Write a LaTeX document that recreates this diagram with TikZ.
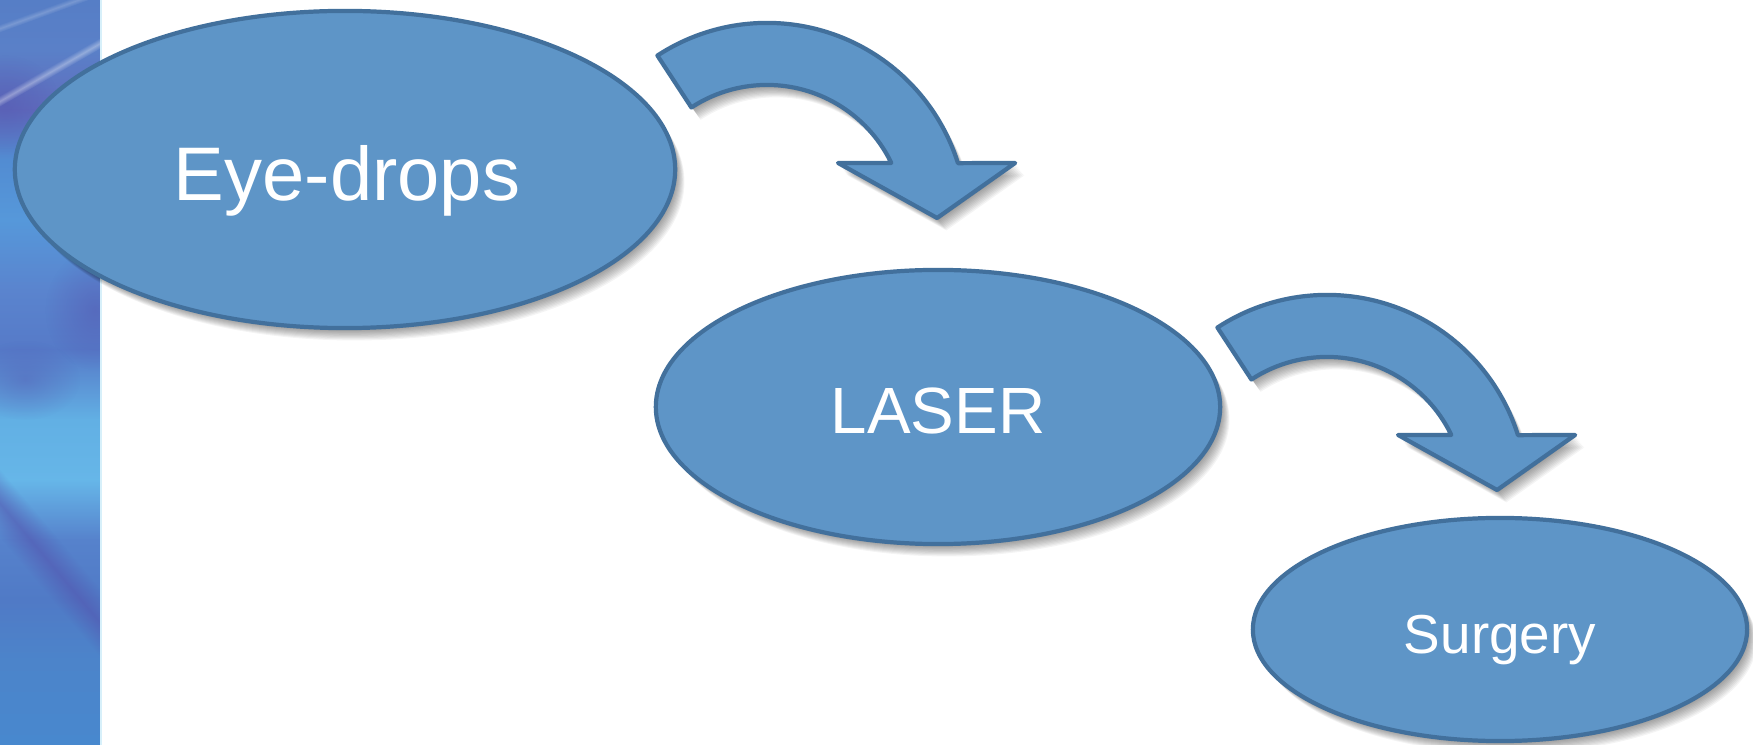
\documentclass[tikz,border=0pt]{standalone}
\usepackage{fontspec}
\setmainfont{Liberation Sans}
\usetikzlibrary{shapes.geometric,fadings}

\definecolor{bubblefill}{RGB}{94,149,199}
\definecolor{bubbleline}{RGB}{66,112,156}
\definecolor{edgeglow}{RGB}{215,240,250}
% colours of the decorative side band, top to bottom
\definecolor{sa}{RGB}{86,126,198}
\definecolor{sb}{RGB}{90,128,200}
\definecolor{sc}{RGB}{96,108,190}
\definecolor{sd}{RGB}{82,140,210}
\definecolor{se}{RGB}{86,152,218}
\definecolor{sf}{RGB}{90,132,206}
\definecolor{sg}{RGB}{86,122,200}
\definecolor{sh}{RGB}{98,176,228}
\definecolor{si}{RGB}{102,182,232}
\definecolor{sj}{RGB}{86,130,204}
\definecolor{sk}{RGB}{80,122,198}
\definecolor{sl}{RGB}{76,132,202}
\definecolor{sm}{RGB}{72,136,206}
\definecolor{bandpurple}{RGB}{84,86,176}

\tikzfading[name=softband, top color=transparent!100,
  bottom color=transparent!100, middle color=transparent!0]
\tikzfading[name=softspot, inner color=transparent!0,
  outer color=transparent!100]

\tikzset{
  % one faint offset copy of the shape, stacked to build a soft drop shadow
  shadowcopy/.style={preaction={draw=none, fill=black, fill opacity=0.045,
      transform canvas={xshift=#1*0.24pt, yshift=-#1*0.32pt}}},
  softshadow/.style={shadowcopy=1, shadowcopy=2, shadowcopy=3, shadowcopy=4,
    shadowcopy=5, shadowcopy=6, shadowcopy=7, shadowcopy=8, shadowcopy=9,
    shadowcopy=10, shadowcopy=11},
  bubble/.style={ellipse, draw=bubbleline, fill=bubblefill, line width=1.2pt,
    inner sep=0pt, outer sep=0pt, softshadow},
  bubbletext/.style={text=white, anchor=base, inner sep=0pt, outer sep=0pt},
  arrowbody/.style={draw=bubbleline, fill=bubblefill, line width=1.2pt,
    line join=round, softshadow},
  bendarrow/.pic={
    \path[arrowbody]
      (123.2:2cm) arc[start angle=123.2, end angle=17.4, radius=2cm]
      -- (2.48cm,0.6cm) -- (1.70cm,0.05cm) -- (0.71cm,0.6cm)
      -- (25.8:1.38cm) arc[start angle=25.8, end angle=123.2, radius=1.38cm]
      -- cycle;
  }
}

\begin{document}
\begin{tikzpicture}[x=0.01cm, y=0.01cm]
\useasboundingbox (0,0) rectangle (1753,745);
\fill[white] (0,0) rectangle (1753,745);

% decorative side band
\begin{scope}
  \clip (0,0) rectangle (100,745);
  \shade[top color=sa, bottom color=sb] (0,745) rectangle (100,695);
  \shade[top color=sb, bottom color=sc] (0,695) rectangle (100,635);
  \shade[top color=sc, bottom color=sd] (0,635) rectangle (100,585);
  \shade[top color=sd, bottom color=se] (0,585) rectangle (100,525);
  \shade[top color=se, bottom color=sf] (0,525) rectangle (100,455);
  \shade[top color=sf, bottom color=sg] (0,455) rectangle (100,395);
  \shade[top color=sg, bottom color=sh] (0,395) rectangle (100,325);
  \shade[top color=sh, bottom color=si] (0,325) rectangle (100,265);
  \shade[top color=si, bottom color=sj] (0,265) rectangle (100,205);
  \shade[top color=sj, bottom color=sk] (0,205) rectangle (100,145);
  \shade[top color=sk, bottom color=sl] (0,145) rectangle (100,85);
  \shade[top color=sl, bottom color=sm] (0,85) rectangle (100,0);
  % purple patches
  \fill[bandpurple, opacity=0.5, path fading=softspot]
    (5,640) ellipse[x radius=55, y radius=50];
  \fill[bandpurple, opacity=0.5, path fading=softspot]
    (95,435) ellipse[x radius=50, y radius=60];
  \fill[bandpurple, opacity=0.4, path fading=softspot]
    (25,365) ellipse[x radius=55, y radius=40];
  % soft diagonal streaks
  \begin{scope}[transform canvas={shift={(50,673)}, rotate=30}]
    \fill[white, opacity=0.35, path fading=softband] (-90,-5) rectangle (90,5);
  \end{scope}
  \begin{scope}[transform canvas={shift={(50,735)}, rotate=20}]
    \fill[white, opacity=0.2, path fading=softband] (-90,-4) rectangle (90,4);
  \end{scope}
  \begin{scope}[transform canvas={shift={(50,182)}, rotate=-50}]
    \fill[bandpurple, opacity=0.6, path fading=softband] (-120,-22) rectangle (120,22);
  \end{scope}
\end{scope}
\draw[edgeglow, line width=0.7pt] (101,0) -- (101,745);

% treatment stages
\node[bubble, minimum width=6.60cm, minimum height=3.17cm] (drops) at (345,575.5) {};
\node[bubble, minimum width=5.64cm, minimum height=2.74cm] (laser) at (938,338) {};
\node[bubble, minimum width=4.94cm, minimum height=2.23cm] (surgery) at (1500,115.5) {};

\node[bubbletext, font=\fontsize{21.6}{26}\selectfont] (dropslabel) at (347,544) {Eye-drops};
\node[bubbletext, font=\fontsize{18.6}{22}\selectfont] (laserlabel) at (938,311) {LASER};
\node[bubbletext, font=\fontsize{15.6}{18}\selectfont] (surgerylabel) at (1500,91) {Surgery};

% curved block arrows between the stages
\pic at (767,522) {bendarrow};
\pic at (1327,250) {bendarrow};
\end{tikzpicture}
\end{document}
